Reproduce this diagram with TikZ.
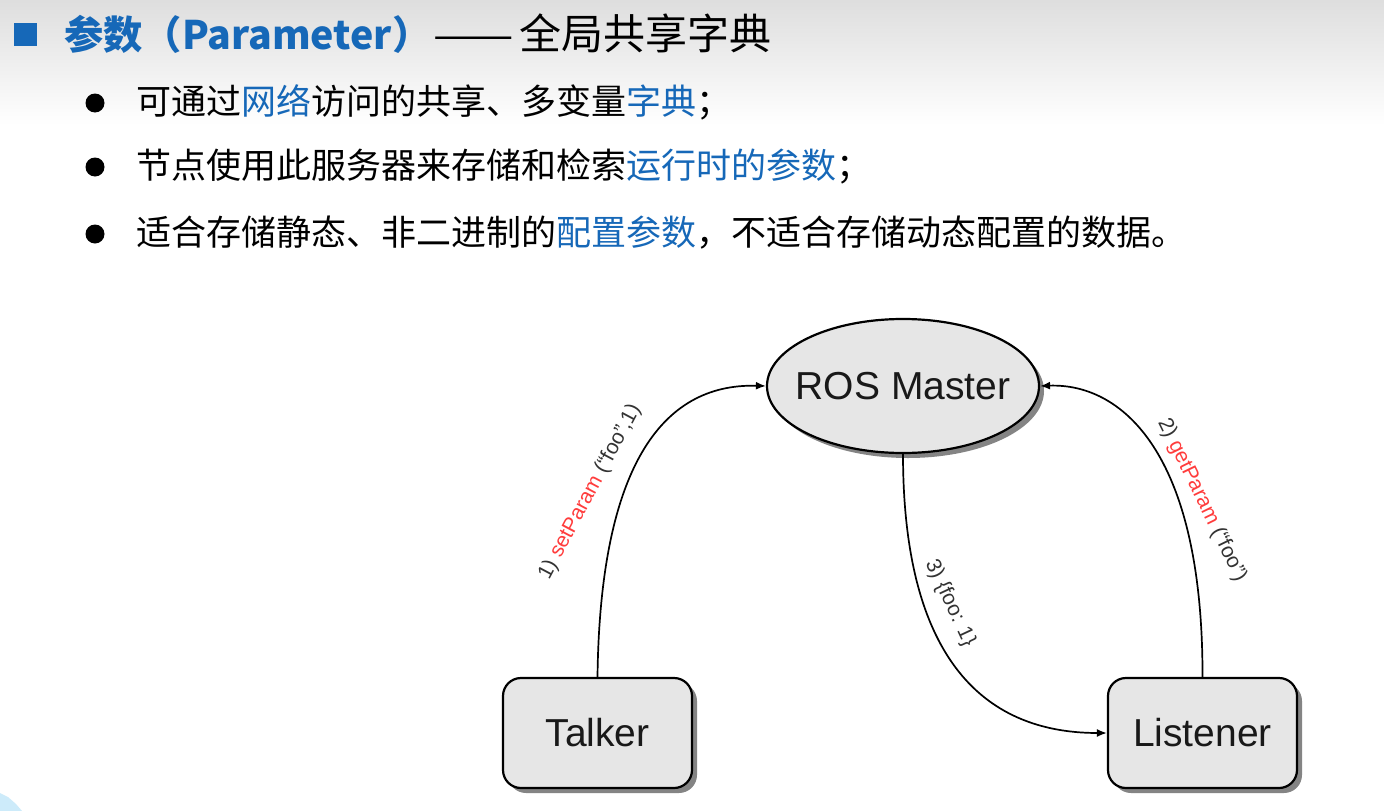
\documentclass[tikz,border=0pt]{standalone}
\usepackage{graphicx}
\usepackage{fontspec}
\setmainfont{Liberation Sans}
\newfontfamily\cjk{Noto Sans CJK SC}
\usetikzlibrary{shapes.geometric,shadows,arrows.meta}
\definecolor{tblue}{RGB}{22,104,184}
\definecolor{lblred}{RGB}{255,60,60}
\definecolor{nodefill}{RGB}{230,230,230}
\definecolor{cornerblue}{RGB}{205,235,250}
\begin{document}
\begin{tikzpicture}[x=1pt,y=-1pt,
  nodebox/.style={draw=black,line width=2.2pt,fill=nodefill,
    drop shadow={shadow xshift=5pt,shadow yshift=-5pt,fill=black!60,opacity=0.8},
    font=\fontsize{39}{41}\selectfont,text=black!90},
  rbox/.style={nodebox,rectangle,rounded corners=18pt,minimum width=189pt,minimum height=110pt},
  ebox/.style={nodebox,ellipse,minimum width=272pt,minimum height=134pt,inner sep=0pt},
  conn/.style={line width=1.7pt,-{Latex[length=10pt,width=8pt]}},
  lbl/.style={font=\fontsize{21}{23}\selectfont,inner sep=0pt,text=black!80},
  bul/.style={anchor=west,font=\cjk\fontsize{35}{40}\selectfont,inner sep=0pt},
  dotb/.style={circle,fill=black,minimum size=19pt,inner sep=0pt}]
\useasboundingbox (0,0) rectangle (1384,811);
% background
\fill[white] (0,0) rectangle (1384,811);
\shade[top color=black!13,bottom color=white] (0,0) rectangle (1384,125);
\fill[cornerblue] (0,793) -- (8,797) -- (16,804) -- (22,811) -- (0,811) -- cycle;
% title
\node[fill=tblue,minimum size=23pt,inner sep=0pt] (sq) at (25.5,34.5) {};
\node[anchor=west,inner sep=0pt,font=\cjk\fontsize{40}{44}\selectfont] (title) at (64,34)
  {{\color{tblue}\bfseries\fontsize{39.3}{44}\selectfont 参数（Parameter）}\hspace{2pt}\scalebox{1.2}[1]{——}\hspace{6pt}{\fontsize{42}{44}\selectfont 全局共享字典}};
% bullets
\node[dotb] (d1) at (95,103) {};
\node[bul] (b1) at (136,102) {可通过\textcolor{tblue}{网络}访问的共享、多变量\textcolor{tblue}{字典}；};
\node[dotb] (d2) at (95,167) {};
\node[bul] (b2) at (136,166) {节点使用此服务器来存储和检索\textcolor{tblue}{运行时的参数}；};
\node[dotb] (d3) at (95,234) {};
\node[bul] (b3) at (136,233) {适合存储静态、非二进制的\textcolor{tblue}{配置参数}，不适合存储动态配置的数据。};
% diagram
\node[ebox] (master) at (903,386) {\makebox[0pt]{ROS Master}};
\node[rbox] (talker) at (597.5,733) {Talker};
\node[rbox] (listener) at (1202.5,733) {Listener};
\draw[conn] (talker.north) .. controls (600,470) and (660,383) .. (master.west);
\draw[conn] (listener.north) .. controls (1203,450) and (1120,383) .. (master.east);
\draw[conn] (master.south) .. controls (903,640) and (970,733) .. (listener.west);
\node[lbl,rotate=62] (l1) at (590,492) {1) \textcolor{lblred}{setParam} (“foo”,1)};
\node[lbl,rotate=-64] (l2) at (1202,500) {2) \textcolor{lblred}{getParam} (“foo”)};
\node[lbl,rotate=-65] (l3) at (950,603) {3) \{foo: 1\}};
\end{tikzpicture}
\end{document}
